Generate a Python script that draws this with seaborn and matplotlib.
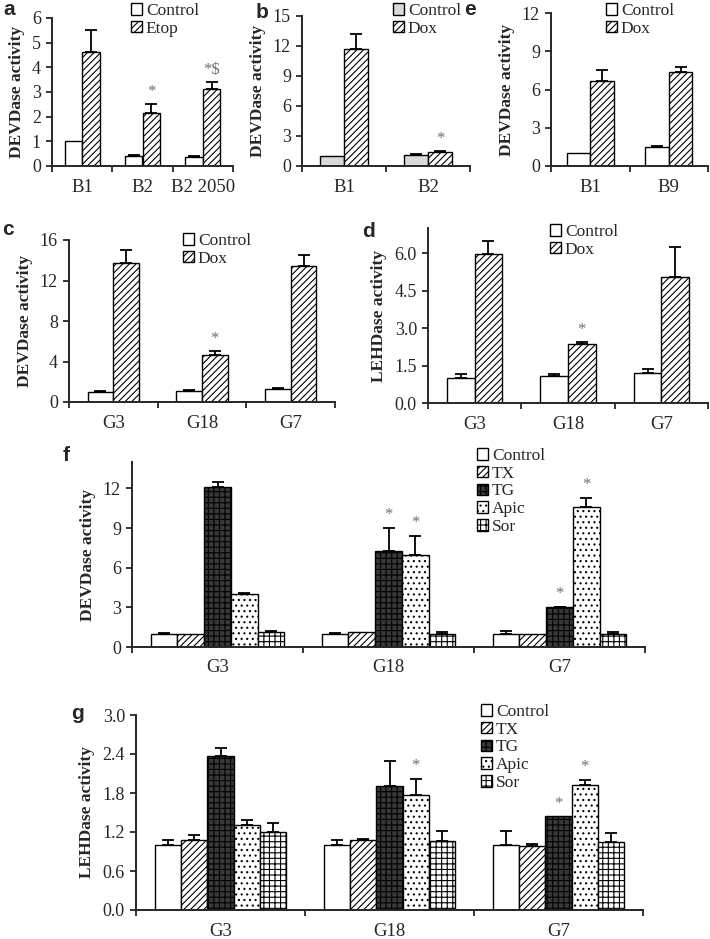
import numpy as np
import pandas as pd
import matplotlib
matplotlib.use("Agg")
import matplotlib.pyplot as plt
import matplotlib.patches as mpatches
import seaborn as sns

# ---------------- data ----------------
a_groups = ["B1", "B2", "B2 2050"]
a_control = [1.0, 0.40, 0.38]
a_control_err = [0.0, 0.03, 0.03]
a_etop = [4.62, 2.15, 3.12]
a_etop_err = [0.88, 0.38, 0.30]
a_stars = ["", "*", r"*\$"]

b_groups = ["B1", "B2"]
b_control = [1.0, 1.1]
b_control_err = [0.0, 0.1]
b_dox = [11.7, 1.4]
b_dox_err = [1.5, 0.15]
b_stars = ["", "*"]

e_groups = ["B1", "B9"]
e_control = [1.0, 1.5]
e_control_err = [0.0, 0.1]
e_dox = [6.7, 7.4]
e_dox_err = [0.8, 0.4]

c_groups = ["G3", "G18", "G7"]
c_control = [1.0, 1.1, 1.3]
c_control_err = [0.1, 0.05, 0.1]
c_dox = [13.7, 4.6, 13.4]
c_dox_err = [1.3, 0.4, 1.1]
c_stars = ["", "*", ""]

d_groups = ["G3", "G18", "G7"]
d_control = [1.0, 1.1, 1.22]
d_control_err = [0.17, 0.08, 0.15]
d_dox = [5.95, 2.35, 5.05]
d_dox_err = [0.55, 0.08, 1.2]
d_stars = ["", "*", ""]

fg_groups = ["G3", "G18", "G7"]

f_control = [1.0, 1.0, 1.0]
f_control_err = [0.05, 0.05, 0.2]
f_tx = [0.95, 1.1, 0.95]
f_tx_err = [0.0, 0.0, 0.0]
f_tg = [12.1, 7.3, 3.0]
f_tg_err = [0.4, 1.7, 0.05]
f_apic = [4.0, 7.0, 10.6]
f_apic_err = [0.1, 1.4, 0.7]
f_sor = [1.1, 1.0, 1.0]
f_sor_err = [0.1, 0.1, 0.1]
f_stars_tg = ["", "*", "*"]
f_stars_apic = ["", "*", "*"]

g_control = [1.0, 1.0, 1.0]
g_control_err = [0.07, 0.08, 0.22]
g_tx = [1.07, 1.08, 0.98]
g_tx_err = [0.08, 0.02, 0.03]
g_tg = [2.37, 1.91, 1.44]
g_tg_err = [0.13, 0.39, 0.0]
g_apic = [1.31, 1.77, 1.92]
g_apic_err = [0.07, 0.25, 0.08]
g_sor = [1.20, 1.06, 1.05]
g_sor_err = [0.14, 0.15, 0.13]
g_stars_tg = ["", "", "*"]
g_stars_apic = ["", "*", "*"]

# ---------------- style ----------------
sns.set_style("ticks")
plt.rcParams["font.family"] = ["Liberation Serif", "DejaVu Serif"]
plt.rcParams["hatch.linewidth"] = 0.8
plt.rcParams["axes.linewidth"] = 1.4

FILL = {"Control": "white", "Etop": "white", "Dox": "white", "TX": "white",
        "TG": "#383838", "Apic": "white", "Sor": "white"}
HATCH = {"Control": "", "Etop": "/////", "Dox": "/////", "TX": "/////",
         "TG": "+++", "Apic": "...", "Sor": "+++"}

W, H = 710, 939
fig = plt.figure(figsize=(W / 100, H / 100), dpi=100)


def px_rect(left, top, right, bottom):
    return [left / W, 1 - bottom / H, (right - left) / W, (bottom - top) / H]


def panel(rect, letter, letter_xy, groups, series, errors, stars, ylim, yticks,
          yfmt, ylabel, legend_xy, width, fill=None):
    fill = dict(FILL, **(fill or {}))
    ax = fig.add_axes(px_rect(*rect))
    names = list(series)
    rows = [(g, n, v) for n in names for g, v in zip(groups, series[n])]
    df = pd.DataFrame(rows, columns=["group", "cond", "value"])
    sns.barplot(data=df, x="group", y="value", hue="cond", order=groups,
                hue_order=names, palette={n: fill[n] for n in names},
                width=width, saturation=1, edgecolor="black", linewidth=1.0,
                errorbar=None, legend=False, ax=ax)

    top = ylim[1]
    for cont, n in zip(ax.containers, names):
        for bar, err, st in zip(cont.patches, errors[n], stars.get(n, [""] * len(groups))):
            bar.set_hatch(HATCH[n])
            x = bar.get_x() + bar.get_width() / 2
            h = bar.get_height()
            if err > 0:
                ax.errorbar(x, h, yerr=[[0], [err]], fmt="none", ecolor="black",
                            elinewidth=1.3, capsize=4, capthick=1.3)
            if st:
                ax.text(x, h + err + top * 0.025, st, ha="center", va="bottom",
                        fontsize=12, color="#707070")

    n = len(groups)
    ax.set_xlim(-0.5, n - 0.5)
    ax.set_ylim(*ylim)
    ax.set_yticks(yticks)
    ax.set_yticklabels([yfmt.format(t) for t in yticks], fontsize=13)
    ax.set_xticks(range(n))
    ax.set_xticklabels(groups, fontsize=13.5)
    ax.set_xticks(np.arange(-0.5, n), minor=True)
    ax.tick_params(axis="x", which="major", length=0, pad=9)
    ax.tick_params(axis="x", which="minor", length=4, width=1.3, direction="out")
    ax.tick_params(axis="y", length=4, width=1.3, direction="out", pad=4)
    ax.set_xlabel("")
    ax.set_ylabel(ylabel, fontsize=12.5, fontweight="bold", labelpad=5)
    sns.despine(ax=ax)

    handles = [mpatches.Patch(facecolor=fill[nm], edgecolor="black", hatch=HATCH[nm],
                              linewidth=1.0, label=nm) for nm in names]
    ax.legend(handles=handles, loc="upper left", frameon=False,
              bbox_to_anchor=(legend_xy[0] / W, 1 - legend_xy[1] / H),
              bbox_transform=fig.transFigure, borderpad=0, borderaxespad=0,
              handlelength=0.65, handleheight=0.65, handletextpad=0.2,
              labelspacing=0.1, fontsize=12.5)
    fig.text(letter_xy[0] / W, 1 - letter_xy[1] / H, letter, ha="left", va="top",
             fontsize=15, fontweight="bold", family="Liberation Sans")
    return ax


panel((52, 18, 233, 166), "a", (3, 0), a_groups,
      {"Control": a_control, "Etop": a_etop},
      {"Control": a_control_err, "Etop": a_etop_err},
      {"Etop": a_stars}, (0, 6), range(0, 7), "{:d}",
      "DEVDase activity", (131, 3), 0.58)

panel((302, 16, 470, 166), "b", (256, 3), b_groups,
      {"Control": b_control, "Dox": b_dox},
      {"Control": b_control_err, "Dox": b_dox_err},
      {"Dox": b_stars}, (0, 15), range(0, 16, 3), "{:d}",
      "DEVDase activity", (393, 3), 0.58, fill={"Control": "#d9d9d9"})

panel((551, 13, 708, 166), "e", (464, 0), e_groups,
      {"Control": e_control, "Dox": e_dox},
      {"Control": e_control_err, "Dox": e_dox_err},
      {}, (0, 12), range(0, 13, 3), "{:d}",
      "DEVDase activity", (606, 3), 0.6)

panel((69, 240, 335, 402), "c", (2, 220), c_groups,
      {"Control": c_control, "Dox": c_dox},
      {"Control": c_control_err, "Dox": c_dox_err},
      {"Dox": c_stars}, (0, 16), range(0, 17, 4), "{:d}",
      "DEVDase activity", (183, 233), 0.58)

panel((428, 228, 708, 403), "d", (362, 222), d_groups,
      {"Control": d_control, "Dox": d_dox},
      {"Control": d_control_err, "Dox": d_dox_err},
      {"Dox": d_stars}, (0, 7.0), [0, 1.5, 3.0, 4.5, 6.0], "{:.1f}",
      "LEHDase activity", (550, 224), 0.59)

panel((132, 462, 645, 647), "f", (63, 446), fg_groups,
      {"Control": f_control, "TX": f_tx, "TG": f_tg, "Apic": f_apic, "Sor": f_sor},
      {"Control": f_control_err, "TX": f_tx_err, "TG": f_tg_err,
       "Apic": f_apic_err, "Sor": f_sor_err},
      {"TG": f_stars_tg, "Apic": f_stars_apic}, (0, 14), range(0, 13, 3), "{:d}",
      "DEVDase activity", (477, 448), 0.78)

panel((136, 715, 643, 910), "g", (71, 704), fg_groups,
      {"Control": g_control, "TX": g_tx, "TG": g_tg, "Apic": g_apic, "Sor": g_sor},
      {"Control": g_control_err, "TX": g_tx_err, "TG": g_tg_err,
       "Apic": g_apic_err, "Sor": g_sor_err},
      {"TG": g_stars_tg, "Apic": g_stars_apic}, (0, 3.0),
      [0, 0.6, 1.2, 1.8, 2.4, 3.0], "{:.1f}",
      "LEHDase activity", (481, 704), 0.78)

fig.savefig("out.png", dpi=100)
